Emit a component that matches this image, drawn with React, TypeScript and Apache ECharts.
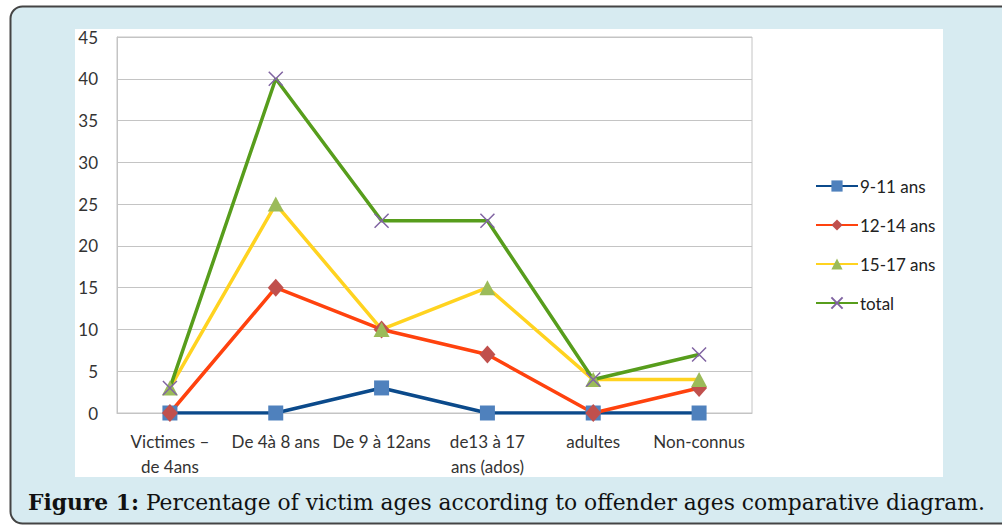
import React, { useEffect, useRef } from "react";
import * as echarts from "echarts";

const categories = [
  "Victimes –\nde 4ans",
  "De 4à 8 ans",
  "De 9 à 12ans",
  "de13 à 17\nans (ados)",
  "adultes",
  "Non-connus",
];
const seriesNames = ["9-11 ans", "12-14 ans", "15-17 ans", "total"];
const values911 = [0, 0, 3, 0, 0, 0];
const values1214 = [0, 15, 10, 7, 0, 3];
const values1517 = [3, 25, 10, 15, 4, 4];
const valuesTotal = [3, 40, 23, 23, 4, 7];
const yMin = 0;
const yMax = 45;
const yStep = 5;
const captionBold = "Figure 1:";
const captionText = " Percentage of victim ages according to offender ages comparative diagram.";

const FONT = "Lato, 'Open Sans', sans-serif";

export default function App() {
  const ref = useRef<HTMLDivElement>(null);
  useEffect(() => {
    document.body.style.margin = "0";
    if (!ref.current) return;
    const chart = echarts.init(ref.current, undefined, { renderer: "svg" });
    const lineW = 3.5;
    chart.setOption({
      animation: false,
      backgroundColor: "#ffffff",
      graphic: [
        {
          type: "rect",
          z: -10,
          silent: true,
          shape: { x: 10.5, y: 6.5, width: 1010, height: 517, r: 12 },
          style: { fill: "#d7ebf1", stroke: "#444444", lineWidth: 2 },
        },
        {
          type: "rect",
          z: -9,
          silent: true,
          shape: { x: 75, y: 29, width: 868, height: 448 },
          style: { fill: "#ffffff" },
        },
        {
          type: "text",
          x: 28,
          y: 502,
          style: {
            text: "{b|" + captionBold + "}{r|" + captionText + "}",
            verticalAlign: "middle",
            rich: {
              b: { fontFamily: "'DejaVu Serif', serif", fontSize: 21.8, fontWeight: "bold", fill: "#111111" },
              r: { fontFamily: "'DejaVu Serif', serif", fontSize: 21.8, fill: "#111111" },
            },
          },
        },
      ],
      grid: {
        left: 117,
        top: 37,
        right: 250,
        bottom: 114,
        show: true,
        borderColor: "#c4c4c4",
        borderWidth: 1,
        backgroundColor: "transparent",
      },
      legend: {
        orient: "vertical",
        left: 810,
        top: 171,
        itemWidth: 42,
        itemHeight: 14,
        itemGap: 19,
        textStyle: { fontFamily: FONT, fontSize: 17, color: "#222222", lineHeight: 20, padding: [0, 0, 0, -3] },
        data: seriesNames,
      },
      xAxis: {
        type: "category",
        data: categories,
        boundaryGap: true,
        axisLine: { lineStyle: { color: "#c4c4c4", width: 1 } },
        axisTick: { show: false },
        axisLabel: {
          interval: 0,
          margin: 16,
          fontFamily: FONT,
          fontSize: 17,
          lineHeight: 25,
          color: "#333333",
        },
      },
      yAxis: {
        type: "value",
        min: yMin,
        max: yMax,
        interval: yStep,
        axisLine: { show: true, lineStyle: { color: "#c4c4c4", width: 1 } },
        axisTick: { show: false },
        splitLine: { lineStyle: { color: "#c4c4c4", width: 1 } },
        axisLabel: { margin: 19, fontFamily: FONT, fontSize: 17, color: "#333333" },
      },
      series: [
        {
          name: seriesNames[0],
          type: "line",
          data: values911,
          symbol: "rect",
          symbolSize: 15,
          lineStyle: { color: "#0b4a8b", width: lineW },
          itemStyle: { color: "#4f81bd" },
        },
        {
          name: seriesNames[1],
          type: "line",
          data: values1214,
          symbol: "diamond",
          symbolSize: [16, 18],
          lineStyle: { color: "#ff420e", width: lineW },
          itemStyle: { color: "#c0504d" },
        },
        {
          name: seriesNames[2],
          type: "line",
          data: values1517,
          symbol: "triangle",
          symbolSize: [16, 15],
          lineStyle: { color: "#ffd320", width: lineW },
          itemStyle: { color: "#9bbb59" },
        },
        {
          name: seriesNames[3],
          type: "line",
          data: valuesTotal,
          symbol: "path://M0,0L10,10M10,0L0,10",
          symbolSize: 14,
          lineStyle: { color: "#579d1c", width: lineW },
          itemStyle: { color: "none", borderColor: "#8064a2", borderWidth: 1.5 },
        },
      ],
    });
    return () => chart.dispose();
  }, []);
  return <div ref={ref} style={{ width: 1002, height: 527, position: "absolute", left: 0, top: 0 }} />;
}
